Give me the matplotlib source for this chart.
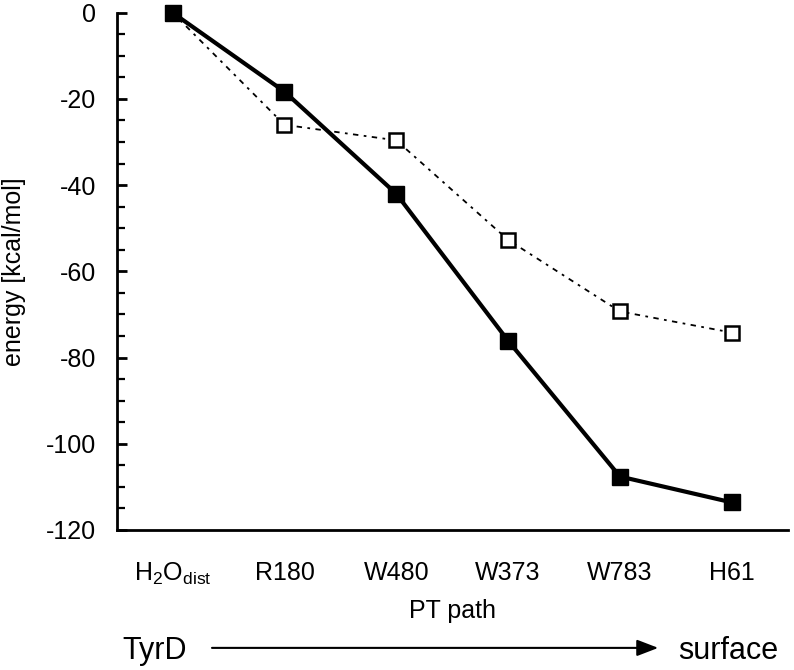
import matplotlib.pyplot as plt
import numpy as np

plt.rcParams['font.family'] = ['Liberation Sans', 'DejaVu Sans']
plt.rcParams['mathtext.fontset'] = 'custom'
plt.rcParams['mathtext.rm'] = 'Liberation Sans'
plt.rcParams['axes.unicode_minus'] = False

labels = [r'H$_2$O$_{\mathrm{dist}}$', 'R180', 'W480', 'W373', 'W783', 'H61']
solid_vals = [0, -18.3, -42.0, -76.1, -107.6, -113.6]
open_vals = [0, -26.0, -29.6, -52.7, -69.3, -74.2]

fig = plt.figure(figsize=(7.94, 6.70), dpi=100)
ax = fig.add_axes([0.147, 0.209, 0.845, 0.772])

x = np.arange(len(labels))
ax.plot(x, open_vals, color='black', lw=1.3, ls=(0, (3, 3, 1.5, 3)),
        marker='s', markersize=10, markerfacecolor='white',
        markeredgecolor='black', markeredgewidth=1.8, clip_on=False, zorder=3)
ax.plot(x, solid_vals, color='black', lw=3, marker='s', markersize=11,
        clip_on=False, zorder=4)

ax.set_xlim(-0.5, 5.5)
ax.set_ylim(-120, 0)
ax.set_yticks(np.arange(-120, 1, 20))
ax.set_yticks(np.arange(-120, 1, 5), minor=True)
ax.set_xticks(x)
ax.set_xticklabels(labels)

for s in ['top', 'right']:
    ax.spines[s].set_visible(False)
ax.spines['left'].set_linewidth(2)
ax.spines['bottom'].set_linewidth(2)

ax.tick_params(axis='y', which='major', direction='in', length=7, width=2,
               labelsize=18, pad=15)
ax.tick_params(axis='y', which='minor', direction='in', length=6, width=1.6)
ax.tick_params(axis='x', length=0, labelsize=18, pad=22)

ax.set_ylabel('energy [kcal/mol]', fontsize=18)
ax.yaxis.set_label_coords(-0.135, 0.5)
ax.set_xlabel('PT path', fontsize=18, labelpad=9)

fig.text(0.154, 0.0164, 'TyrD', fontsize=22, ha='left', va='baseline')
fig.text(0.98, 0.0164, 'surface', fontsize=22, ha='right', va='baseline')
ax.annotate('', xy=(0.829, 0.033), xytext=(0.267, 0.033),
            xycoords='figure fraction', textcoords='figure fraction',
            arrowprops=dict(arrowstyle='-|>,head_length=1.3,head_width=0.5',
                            color='black', lw=1.5, shrinkA=0, shrinkB=0))

fig.savefig('out.png', dpi=100)
